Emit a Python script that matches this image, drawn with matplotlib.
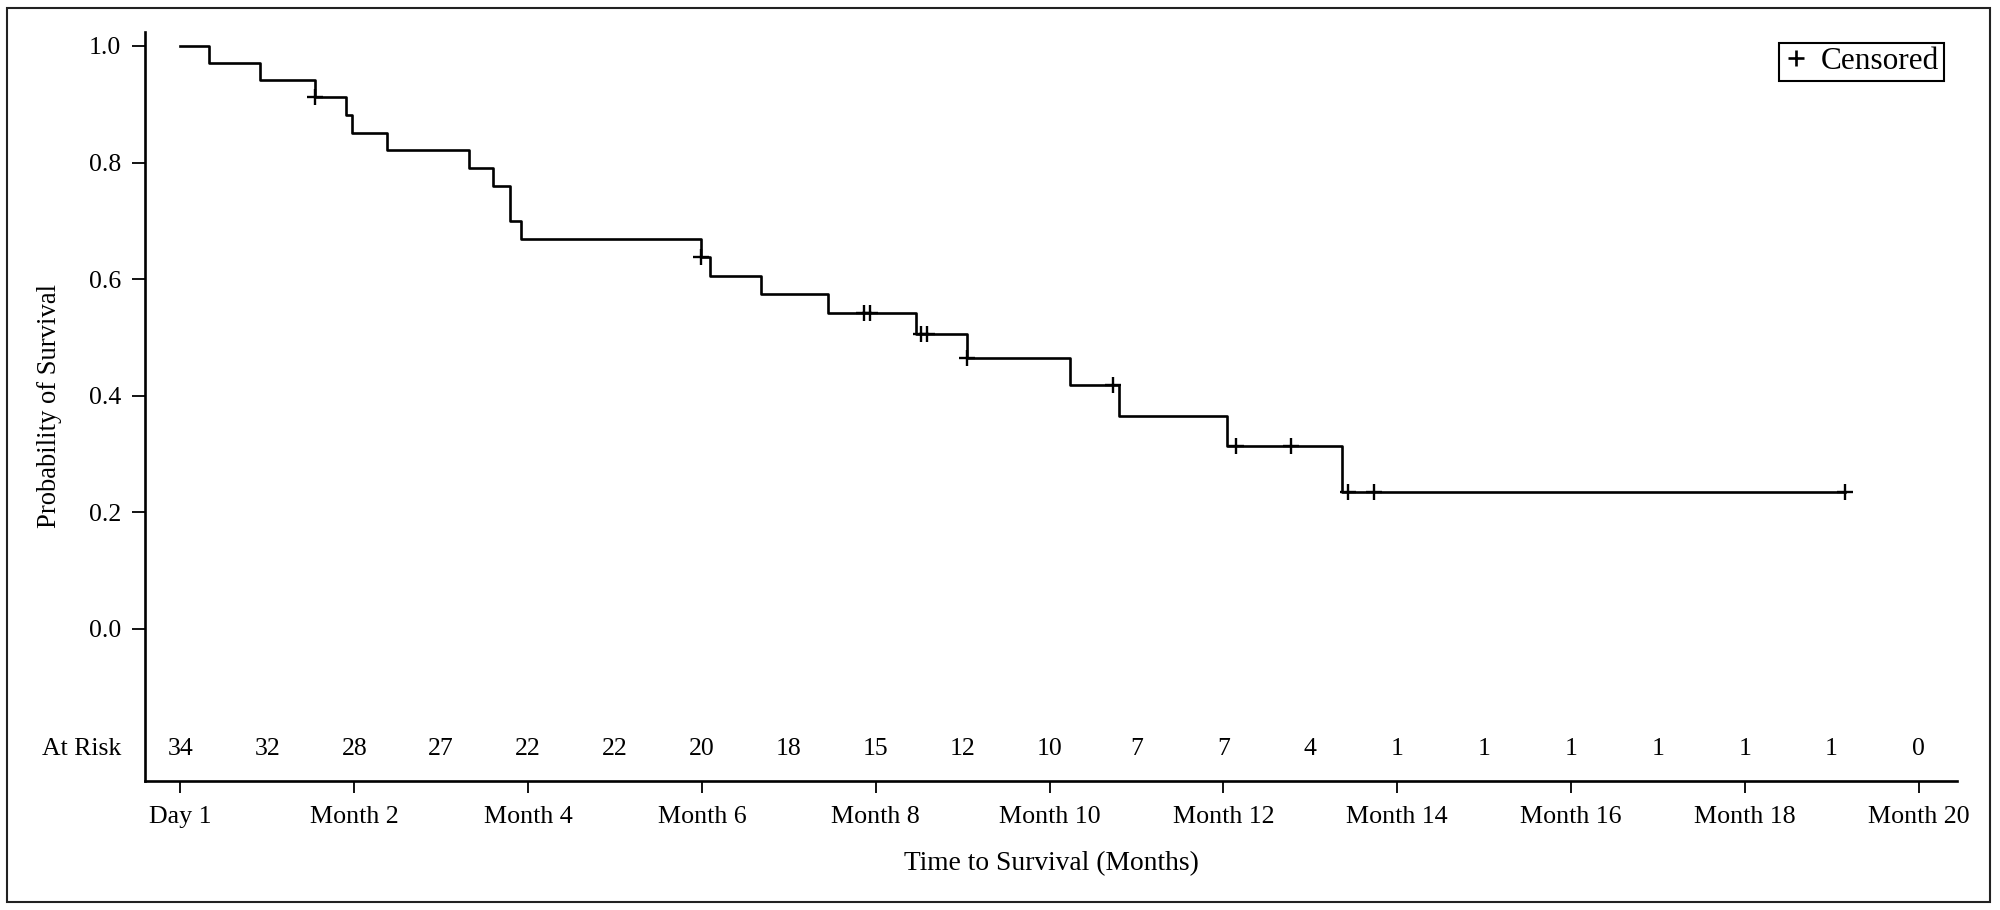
import numpy as np
import matplotlib
matplotlib.use("Agg")
from matplotlib import pyplot as plt
from matplotlib import transforms
from matplotlib.lines import Line2D
from matplotlib.patches import Rectangle

plt.rcParams['font.family'] = ['Liberation Serif', 'DejaVu Serif']

# Kaplan-Meier steps (months, survival after the step)
step_times = [0.0, 0.33, 0.92, 1.55, 1.91, 1.97, 2.38, 3.32, 3.60, 3.79, 3.92,
              5.99, 6.09, 6.68, 7.45, 8.46, 9.05, 10.24, 10.80, 12.04, 13.37]
step_surv = [1.0, 0.971, 0.941, 0.912, 0.881, 0.851, 0.821, 0.790, 0.760, 0.699, 0.669,
             0.638, 0.606, 0.574, 0.542, 0.506, 0.464, 0.418, 0.365, 0.313, 0.235]
last_time = 19.15

# censored observations (months)
censor_times = [1.55, 5.99, 7.87, 7.93, 8.52, 8.59, 9.05, 10.73, 12.15, 12.78, 13.43, 13.73, 19.15]

# number at risk, one per month
risk_months = list(range(0, 21))
at_risk = [34, 32, 28, 27, 22, 22, 20, 18, 15, 12, 10, 7, 7, 4, 1, 1, 1, 1, 1, 1, 0]

xtick_pos = list(range(0, 21, 2))
xtick_labels = ["Day 1"] + ["Month %d" % m for m in range(2, 21, 2)]
ytick_pos = [0.0, 0.2, 0.4, 0.6, 0.8, 1.0]

fig = plt.figure(figsize=(20, 9.1), dpi=100)
ax = fig.add_axes([0.0725, 0.1418, 0.906, 0.8231])

t = step_times + [last_time]
s = step_surv + [step_surv[-1]]
ax.step(t, s, where='post', color='black', lw=1.9)

idx = np.searchsorted(step_times, censor_times, side='right') - 1
cens_surv = np.array(step_surv)[idx]
ax.plot(censor_times, cens_surv, linestyle='none', marker='+', color='black',
        markersize=11, markeredgewidth=1.7)

# at-risk row
for m, n in zip(risk_months, at_risk):
    ax.text(m, -0.216, str(n), ha='center', va='baseline', fontsize=18.5)
trans = transforms.blended_transform_factory(ax.transAxes, ax.transData)
ax.text(-0.0133, -0.216, "At Risk", ha='right', va='baseline', fontsize=18.5, transform=trans)

ax.set_xlim(-0.4085, 20.443)
ax.set_ylim(-0.2607, 1.024)
ax.set_xticks(xtick_pos)
ax.set_xticklabels(xtick_labels)
ax.set_yticks(ytick_pos)
ax.set_yticklabels(["%.1f" % v for v in ytick_pos])

for side in ['top', 'right']:
    ax.spines[side].set_visible(False)
for side in ['left', 'bottom']:
    ax.spines[side].set_linewidth(1.9)
ax.tick_params(axis='y', direction='out', length=9.4, width=1.3, pad=7.9, labelsize=18.5)
ax.tick_params(axis='x', direction='out', length=8.6, width=1.3, pad=9.4, labelsize=18.7)

ax.set_xlabel("Time to Survival (Months)", fontsize=19.8)
ax.set_ylabel("Probability of Survival", fontsize=19.2)
ax.xaxis.set_label_coords(0.5, -0.0935)
ax.yaxis.set_label_coords(-0.0458, 0.5)

handle = Line2D([], [], linestyle='none', marker='+', color='black',
                markersize=11, markeredgewidth=1.9)
leg = ax.legend([handle], ["Censored"], loc='upper right',
                bbox_to_anchor=(0.9928, 0.9857), borderaxespad=0,
                fontsize=22.5, frameon=True, fancybox=False, framealpha=1,
                borderpad=0.15, handlelength=0.8, handletextpad=0.4)
leg.get_frame().set_edgecolor('black')
leg.get_frame().set_linewidth(1.5)

# outer frame around the whole picture
fig.patches.append(Rectangle((0.0035, 0.0088), 0.9915, 0.9824, transform=fig.transFigure,
                             fill=False, edgecolor='#222222', linewidth=1.5))

fig.savefig("out.png", dpi=100)
